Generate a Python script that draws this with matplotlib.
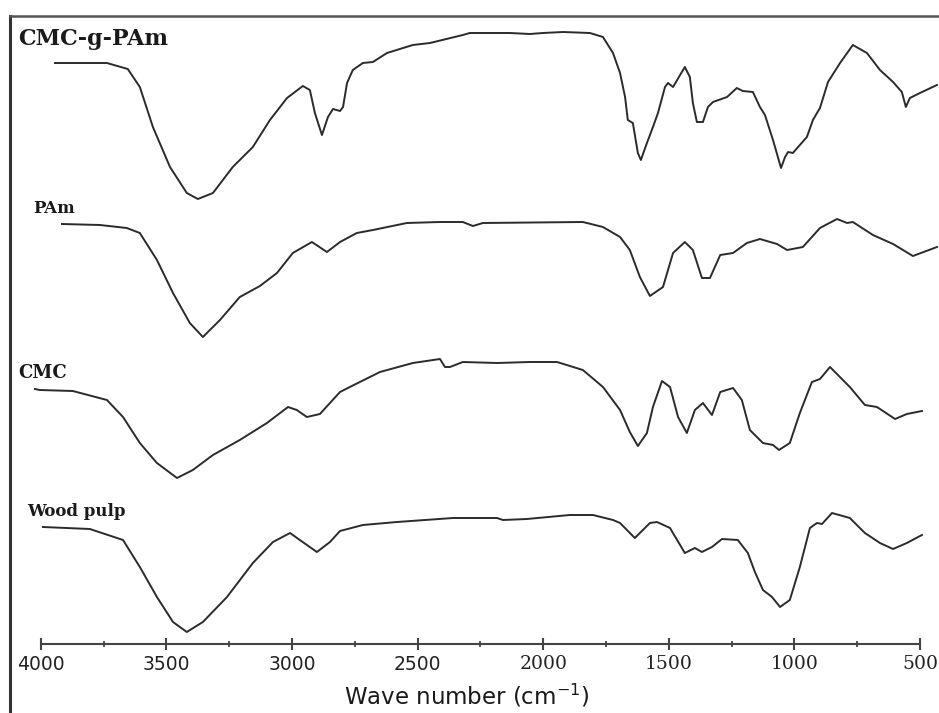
import numpy as np
import matplotlib
matplotlib.use('Agg')
import matplotlib.pyplot as plt

# FTIR spectra: wavenumber (cm-1) and transmittance (a.u., offset per sample)
cmc_g_pam_wn = [3944, 3737, 3654, 3606, 3554, 3486, 3419, 3375, 3315, 3236, 3156, 3088, 3020, 2957,
                2929, 2909, 2881, 2857, 2837, 2809, 2797, 2781, 2758, 2718, 2678, 2622, 2519, 2451,
                2320, 2292, 2132, 2053, 2001, 1921, 1814, 1762, 1722, 1694, 1674, 1663, 1643, 1623,
                1611, 1587, 1563, 1543, 1515, 1503, 1483, 1455, 1436, 1416, 1404, 1388, 1364, 1344,
                1324, 1268, 1229, 1205, 1165, 1137, 1117, 1085, 1053, 1037, 1025, 1006, 978, 950,
                926, 898, 866, 818, 767, 711, 659, 607, 572, 556, 540, 500, 432]
cmc_g_pam_t = [58.7, 58.7, 58.1, 56.3, 52.3, 48.3, 45.7, 45.1, 45.7, 48.3, 50.3, 53.0, 55.2, 56.4,
               56.0, 53.7, 51.5, 53.3, 54.1, 53.9, 54.3, 56.7, 58.0, 58.7, 58.8, 59.7, 60.5, 60.7,
               61.5, 61.7, 61.7, 61.6, 61.7, 61.8, 61.7, 61.3, 59.7, 57.7, 55.3, 53.0, 52.7, 49.7,
               49.0, 50.7, 52.3, 53.7, 56.3, 56.7, 56.3, 57.5, 58.3, 57.3, 54.7, 52.8, 52.8, 54.3,
               54.8, 55.3, 56.2, 55.9, 55.8, 54.3, 53.5, 51.0, 48.2, 49.3, 49.8, 49.7, 50.5, 51.3,
               53.0, 54.2, 56.8, 58.7, 60.5, 59.7, 58.0, 56.8, 55.8, 54.3, 55.2, 55.7, 56.5]

pam_wn = [3916, 3765, 3658, 3606, 3538, 3474, 3407, 3355, 3287, 3208, 3128, 3060, 2997, 2921,
          2861, 2809, 2742, 2678, 2543, 2411, 2320, 2280, 2240, 1842, 1762, 1694, 1655, 1615,
          1575, 1523, 1483, 1436, 1404, 1368, 1336, 1295, 1244, 1189, 1137, 1069, 1029, 966,
          898, 830, 790, 767, 687, 607, 528, 432]
pam_t = [42.6, 42.5, 42.2, 41.7, 39.0, 35.7, 32.7, 31.3, 33.0, 35.3, 36.4, 37.7, 39.7, 40.8,
         39.8, 40.8, 41.7, 42.0, 42.7, 42.8, 42.8, 42.4, 42.7, 42.8, 42.3, 41.3, 40.0, 37.3,
         35.4, 36.3, 39.7, 40.8, 40.0, 37.2, 37.2, 39.5, 39.7, 40.7, 41.1, 40.6, 40.0, 40.3,
         42.2, 43.1, 42.7, 42.8, 41.5, 40.6, 39.4, 40.3]

cmc_wn = [4024, 4004, 3873, 3737, 3673, 3606, 3538, 3458, 3395, 3315, 3208, 3100, 3016, 2981,
          2941, 2889, 2849, 2809, 2770, 2650, 2519, 2411, 2391, 2371, 2320, 2184, 2053, 1945,
          1842, 1762, 1694, 1655, 1623, 1587, 1563, 1527, 1495, 1463, 1428, 1396, 1364, 1328,
          1295, 1244, 1209, 1177, 1125, 1085, 1061, 1018, 978, 930, 898, 858, 779, 719, 671,
          599, 552, 492]
cmc_t = [26.1, 26.0, 25.9, 25.0, 23.3, 20.7, 18.7, 17.2, 18.0, 19.5, 21.0, 22.7, 24.3, 24.0,
         23.3, 23.6, 24.7, 25.8, 26.3, 27.8, 28.7, 29.1, 28.3, 28.3, 28.8, 28.7, 28.8, 28.8,
         28.0, 26.3, 24.0, 21.8, 20.4, 21.7, 24.3, 26.9, 26.3, 23.3, 21.7, 24.0, 24.7, 23.5,
         25.8, 26.2, 25.0, 22.0, 20.7, 20.5, 20.0, 20.7, 23.7, 26.8, 27.1, 28.3, 26.3, 24.5,
         24.3, 23.1, 23.6, 23.9]

wood_wn = [3992, 3805, 3673, 3606, 3538, 3474, 3419, 3355, 3259, 3156, 3076, 3008, 2969, 2901,
           2849, 2809, 2718, 2582, 2359, 2184, 2160, 2065, 1894, 1802, 1722, 1694, 1635, 1575,
           1547, 1495, 1436, 1396, 1368, 1328, 1288, 1225, 1185, 1157, 1125, 1089, 1057, 1018,
           978, 938, 910, 890, 850, 779, 719, 659, 607, 552, 492]
wood_t = [12.3, 12.1, 11.0, 8.3, 5.3, 2.8, 1.8, 2.8, 5.3, 8.7, 10.8, 11.7, 11.0, 9.8,
          10.8, 11.9, 12.5, 12.8, 13.2, 13.2, 13.0, 13.1, 13.5, 13.5, 13.0, 12.7, 11.2, 12.7,
          12.8, 12.2, 9.7, 10.2, 9.8, 10.3, 11.1, 11.0, 9.7, 7.8, 6.0, 5.3, 4.3, 5.0,
          8.3, 12.2, 12.7, 12.6, 13.7, 13.2, 11.7, 10.7, 10.1, 10.7, 11.5]

names = ['CMC-g-PAm', 'PAm', 'CMC', 'Wood pulp']
major_ticks = [4000, 3500, 3000, 2500, 2000, 1500, 1000, 500]
minor_ticks = [3750, 3250, 2750, 2250, 1750, 1250, 750]


def main():
    fig = plt.figure(figsize=(9.39, 7.13), dpi=100)
    ax = fig.add_axes([10 / 939, 0, 929 / 939, 697 / 713])

    spectra = [(cmc_g_pam_wn, cmc_g_pam_t), (pam_wn, pam_t), (cmc_wn, cmc_t), (wood_wn, wood_t)]
    for wn, t in spectra:
        ax.plot(wn, t, color='#2b2b2b', lw=1.4, solid_joinstyle='round')

    # sample names, drawn next to the start of each trace
    label_pos = [(4092, 60.5, 16), (4032, 43.7, 12), (4092, 27.2, 13), (4056, 13.4, 12)]
    for name, (x, y, size) in zip(names, label_pos):
        ax.text(x, y, name, fontsize=size, family='DejaVu Serif', fontweight='bold',
                color='#1a1a1a', ha='left', va='baseline')

    ax.set_xlim(4123, 424)
    ax.set_ylim(-6.3, 63.4)

    # frame: heavy left and top border, free-floating wavenumber axis
    ax.spines['right'].set_visible(False)
    ax.spines['left'].set_linewidth(2.2)
    ax.spines['left'].set_color('#333333')
    ax.spines['top'].set_linewidth(1.8)
    ax.spines['top'].set_color('#555555')
    ax.spines['bottom'].set_position(('data', 0.6))
    ax.spines['bottom'].set_bounds(500, 4000)
    ax.spines['bottom'].set_linewidth(1.5)
    ax.spines['bottom'].set_color('#444444')

    ax.set_yticks([])
    ax.set_xticks(major_ticks, [str(v) for v in major_ticks])
    ax.set_xticks(minor_ticks, minor=True)
    ax.tick_params(axis='x', which='major', direction='inout', length=8, width=1.5,
                   color='#444444', labelsize=13.5, labelcolor='#222222', pad=4)
    ax.tick_params(axis='x', which='minor', direction='inout', length=5, width=1.3,
                   color='#444444')
    for lbl in ax.get_xticklabels():
        if int(lbl.get_text()) > 2000:
            lbl.set_family('DejaVu Sans')
        else:
            lbl.set_family('DejaVu Serif')

    ax.set_xlabel('Wave number (cm$^{-1}$)', fontsize=16.5, color='#1a1a1a')
    ax.xaxis.set_label_coords(0.491, 0.0445)

    fig.savefig('out.png', dpi=100)


if __name__ == '__main__':
    main()
